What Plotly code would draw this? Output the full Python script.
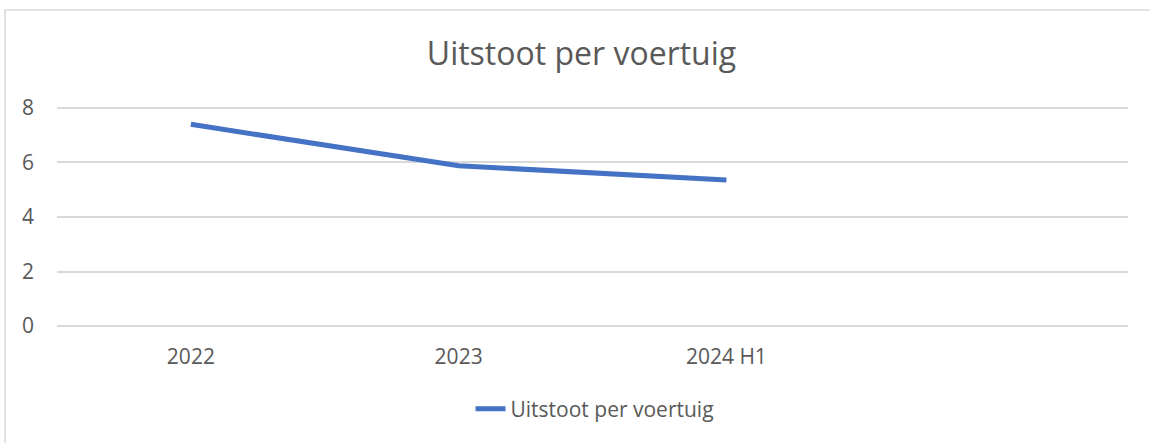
import plotly.graph_objects as go

categories = ["2022", "2023", "2024 H1"]
values = [7.40, 5.88, 5.36]
series_name = "Uitstoot per voertuig"
title_text = "Uitstoot per voertuig"

W, H = 1150, 443
L, R, T, B = 57, 22, 104.5, 113.5
pw = W - L - R
ph = H - T - B
pad_units = 3.0 / (219 / 8)  # three pixels in data units so edge gridlines show

font_family = "Open Sans"
text_color = "#595959"
grid_color = "#d9d9d9"

fig = go.Figure()
fig.add_trace(go.Scatter(
    x=categories, y=values, mode="lines", name=series_name,
    line=dict(color="#4472C4", width=5),
))

def px_to_paper_x(px):
    return (px - L) / pw

def px_to_paper_y(py):
    return (H - B - py) / ph

fig.update_layout(
    width=W, height=H,
    margin=dict(l=L, r=R, t=T, b=B, pad=0),
    paper_bgcolor="white", plot_bgcolor="white",
    font=dict(family=font_family, color=text_color, size=21),
    title=dict(
        text=title_text, font=dict(size=32, color=text_color, family=font_family),
        x=px_to_paper_x(581.5), xref="paper", xanchor="center",
        y=1 - 54 / H, yref="container", yanchor="middle",
    ),
    showlegend=True,
    legend=dict(
        orientation="h", x=px_to_paper_x(595), xanchor="center",
        y=px_to_paper_y(410), yanchor="middle",
        font=dict(size=21, color=text_color, family=font_family),
        bgcolor="rgba(0,0,0,0)",
    ),
    xaxis=dict(
        type="category", range=[-0.5, 3.5], showgrid=False, zeroline=False,
        showline=False, ticks="", ticklabelstandoff=13,
        tickfont=dict(size=21, color=text_color),
        fixedrange=True,
    ),
    yaxis=dict(
        range=[0 - pad_units, 8 + pad_units], tickvals=[0, 2, 4, 6, 8],
        showgrid=True, gridcolor=grid_color, gridwidth=1.5,
        zeroline=False, showline=False, ticks="", ticklabelstandoff=22,
        tickfont=dict(size=21, color=text_color),
        fixedrange=True,
    ),
    shapes=[dict(
        type="rect", xref="paper", yref="paper",
        x0=px_to_paper_x(5), x1=px_to_paper_x(1158),
        y0=px_to_paper_y(450), y1=px_to_paper_y(9),
        line=dict(color=grid_color, width=1.5), fillcolor="rgba(0,0,0,0)",
        layer="below",
    )],
)

fig.write_html(
    "out.html",
    config={"displayModeBar": False},
    post_script="document.body.style.margin='0';document.body.style.overflow='hidden';",
)
